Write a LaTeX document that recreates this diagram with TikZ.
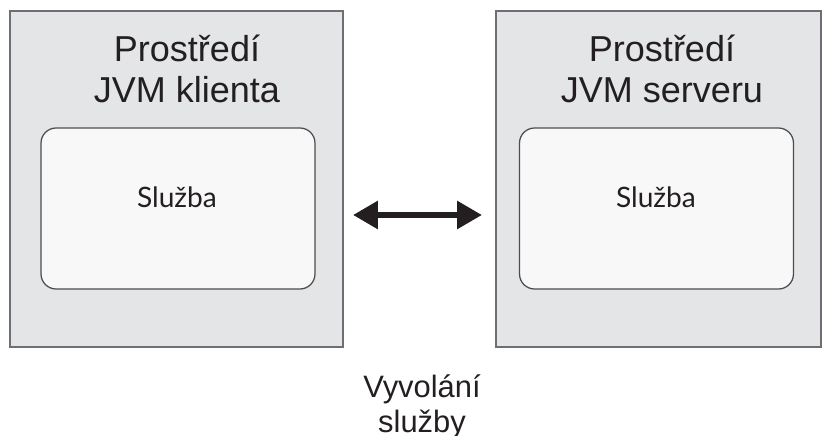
\documentclass[tikz,border=0pt]{standalone}
\usepackage{fontspec}
\setmainfont{Liberation Sans}
\newfontfamily\svcfont{Lato}
\usetikzlibrary{arrows.meta}

\begin{document}
\begin{tikzpicture}[x=0.02cm, y=-0.02cm]
	% Farben definieren
	\definecolor{envgray}{RGB}{228, 229, 231}   % Umgebung
	\definecolor{envline}{RGB}{110, 111, 114}   % Rahmen aussen
	\definecolor{svcfill}{RGB}{248, 248, 248}   % Dienst
	\definecolor{inkdark}{RGB}{35, 31, 32}      % Schrift
	
	% Stile
	\tikzset{
		envbox/.style={draw=envline, fill=envgray, line width=0.04cm, inner sep=0pt},
		svcbox/.style={draw=inkdark!80, fill=svcfill, line width=0.025cm, rounded corners=0.3cm,
			minimum width=5.48cm, minimum height=3.22cm, inner sep=0pt},
		envtitle/.style={text=inkdark, align=center, font=\fontsize{20.5}{23.3}\selectfont, inner sep=0pt},
		svclabel/.style={text=inkdark, font=\svcfont\fontsize{16}{19}\selectfont, inner sep=0pt},
		calllabel/.style={text=inkdark, align=center, font=\fontsize{17.6}{19.9}\selectfont, inner sep=0pt},
		callarrow/.style={draw=inkdark, line width=0.12cm,
			{Triangle[length=0.5cm,width=0.54cm]}-{Triangle[length=0.5cm,width=0.54cm]}}
	}
	
	% Bildgröße
	\useasboundingbox (0,0) rectangle (823,436);
	
	% Umgebungen (Client / Server)
	\node[envbox, minimum width=6.66cm, minimum height=6.72cm] (klient) at (176.5,179) {};
	\node[envbox, minimum width=6.5cm, minimum height=6.72cm] (server) at (658.5,179) {};
	
	% Überschriften
	\node[envtitle, anchor=base] (titelK1) at (187,61) {Prostředí};
	\node[envtitle, anchor=base] (titelK2) at (187,102) {JVM klienta};
	\node[envtitle, anchor=base] (titelS1) at (662,61) {Prostředí};
	\node[envtitle, anchor=base] (titelS2) at (662,102) {JVM serveru};
	
	% Dienste
	\node[svcbox] (sluzbaK) at (178,208.5) {};
	\node[svcbox] (sluzbaS) at (656.5,208.5) {};
	\node[svclabel, anchor=base] (textK) at (177,207) {Služba};
	\node[svclabel, anchor=base] (textS) at (656,207) {Služba};
	
	% Aufruf
	\coordinate (pfeilL) at (353,215);
	\coordinate (pfeilR) at (482,215);
	\draw[callarrow] (pfeilL) -- (pfeilR);
	\node[calllabel, anchor=base] (aufruf1) at (422,397) {Vyvolání};
	\node[calllabel, anchor=base] (aufruf2) at (422,432) {služby};
\end{tikzpicture}
\end{document}
